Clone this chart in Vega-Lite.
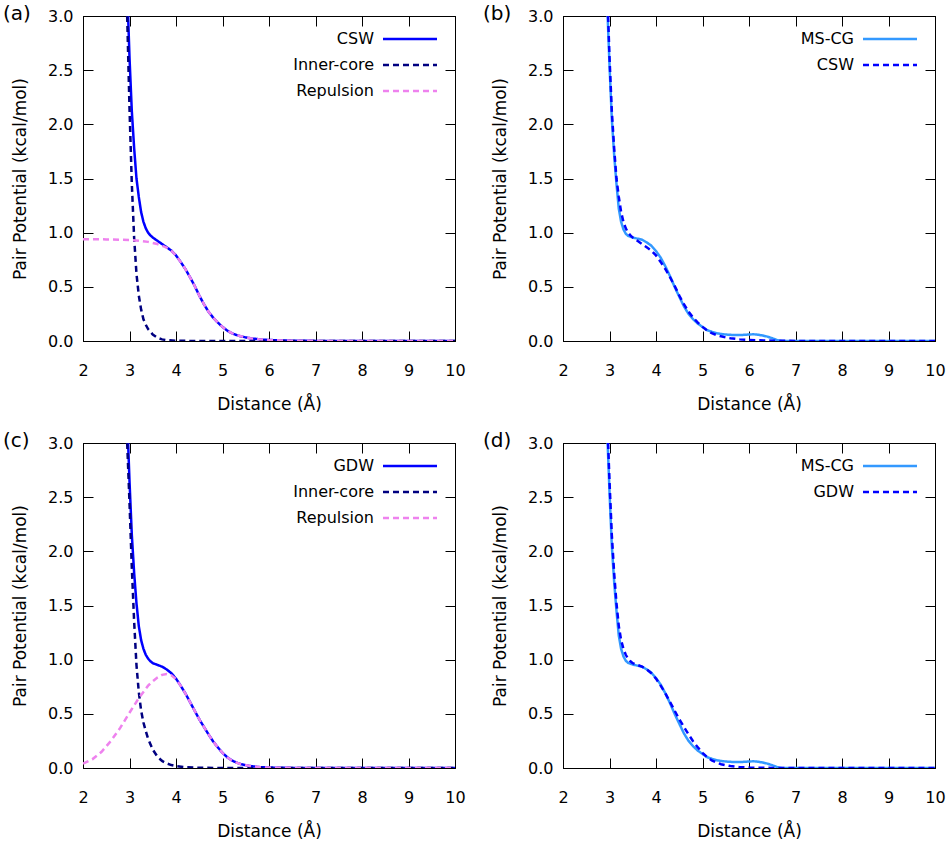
{
  "$schema": "https://vega.github.io/schema/vega-lite/v6.json",
  "autosize": {"type": "pad"},
  "padding": {"left": 2, "top": 3, "right": 0, "bottom": 0},
  "background": "white",
  "bounds": "flush",
  "columns": 2,
  "spacing": {"row": 102, "column": 108},
  "resolve": {"scale": {"color": "independent", "strokeDash": "independent"}, "legend": {"color": "independent", "strokeDash": "independent"}},
  "config": {
    "font": "DejaVu Sans",
    "view": {"stroke": "black", "strokeWidth": 1},
    "axis": {
      "domainColor": "black", "tickColor": "black", "labelColor": "black", "titleColor": "black",
      "grid": false, "tickSize": -10, "tickWidth": 1, "domainWidth": 1,
      "labelFont": "DejaVu Sans", "titleFont": "DejaVu Sans", "labelFontSize": 16, "titleFontSize": 17,
      "titleFontWeight": "normal", "labelFlush": false
    },
    "axisBottom": {"labelPadding": 31, "labelBaseline": "top", "titlePadding": 18},
    "axisLeft": {"labelPadding": 20, "titlePadding": 18},
    "title": {"anchor": "start", "frame": "group", "fontSize": 20, "font": "DejaVu Sans", "fontWeight": "normal", "color": "black", "offset": 0, "baseline": "middle", "dx": -80, "dy": 20},
    "legend": {
      "orient": "none", "legendX": 177, "legendY": 15, "title": null, "padding": 0,
      "symbolType": "M-4,0H4", "symbolSize": 182.25, "symbolStrokeWidth": 2.5,
      "labelAlign": "right", "labelOffset": -44, "symbolOffset": 142,
      "labelFont": "DejaVu Sans", "labelFontSize": 16, "labelColor": "black", "labelLimit": 0, "rowPadding": 10
    }
  },
  "datasets": {
    "a": [
      {"distance": 2.97, "potential": 3.0, "curve": "CSW"},
      {"distance": 3.0, "potential": 2.62, "curve": "CSW"},
      {"distance": 3.05, "potential": 2.12, "curve": "CSW"},
      {"distance": 3.1, "potential": 1.78, "curve": "CSW"},
      {"distance": 3.15, "potential": 1.5, "curve": "CSW"},
      {"distance": 3.2, "potential": 1.33, "curve": "CSW"},
      {"distance": 3.25, "potential": 1.19, "curve": "CSW"},
      {"distance": 3.3, "potential": 1.1, "curve": "CSW"},
      {"distance": 3.35, "potential": 1.04, "curve": "CSW"},
      {"distance": 3.4, "potential": 1.0, "curve": "CSW"},
      {"distance": 3.45, "potential": 0.975, "curve": "CSW"},
      {"distance": 3.5, "potential": 0.955, "curve": "CSW"},
      {"distance": 3.6, "potential": 0.925, "curve": "CSW"},
      {"distance": 3.7, "potential": 0.895, "curve": "CSW"},
      {"distance": 3.8, "potential": 0.865, "curve": "CSW"},
      {"distance": 3.9, "potential": 0.835, "curve": "CSW"},
      {"distance": 4.0, "potential": 0.79, "curve": "CSW"},
      {"distance": 4.1, "potential": 0.73, "curve": "CSW"},
      {"distance": 4.2, "potential": 0.665, "curve": "CSW"},
      {"distance": 4.3, "potential": 0.59, "curve": "CSW"},
      {"distance": 4.4, "potential": 0.51, "curve": "CSW"},
      {"distance": 4.5, "potential": 0.42, "curve": "CSW"},
      {"distance": 4.6, "potential": 0.34, "curve": "CSW"},
      {"distance": 4.7, "potential": 0.27, "curve": "CSW"},
      {"distance": 4.8, "potential": 0.215, "curve": "CSW"},
      {"distance": 4.9, "potential": 0.17, "curve": "CSW"},
      {"distance": 5.0, "potential": 0.13, "curve": "CSW"},
      {"distance": 5.1, "potential": 0.097, "curve": "CSW"},
      {"distance": 5.2, "potential": 0.072, "curve": "CSW"},
      {"distance": 5.3, "potential": 0.055, "curve": "CSW"},
      {"distance": 5.4, "potential": 0.043, "curve": "CSW"},
      {"distance": 5.5, "potential": 0.033, "curve": "CSW"},
      {"distance": 5.6, "potential": 0.025, "curve": "CSW"},
      {"distance": 5.8, "potential": 0.015, "curve": "CSW"},
      {"distance": 6.0, "potential": 0.009, "curve": "CSW"},
      {"distance": 6.5, "potential": 0.003, "curve": "CSW"},
      {"distance": 7.0, "potential": 0.001, "curve": "CSW"},
      {"distance": 8.0, "potential": 0.0, "curve": "CSW"},
      {"distance": 10.0, "potential": 0.0, "curve": "CSW"},
      {"distance": 2.95, "potential": 3.0, "curve": "Inner-core"},
      {"distance": 3.0, "potential": 2.15, "curve": "Inner-core"},
      {"distance": 3.05, "potential": 1.45, "curve": "Inner-core"},
      {"distance": 3.1, "potential": 0.95, "curve": "Inner-core"},
      {"distance": 3.15, "potential": 0.62, "curve": "Inner-core"},
      {"distance": 3.2, "potential": 0.42, "curve": "Inner-core"},
      {"distance": 3.25, "potential": 0.29, "curve": "Inner-core"},
      {"distance": 3.3, "potential": 0.2, "curve": "Inner-core"},
      {"distance": 3.35, "potential": 0.15, "curve": "Inner-core"},
      {"distance": 3.4, "potential": 0.11, "curve": "Inner-core"},
      {"distance": 3.5, "potential": 0.06, "curve": "Inner-core"},
      {"distance": 3.6, "potential": 0.03, "curve": "Inner-core"},
      {"distance": 3.7, "potential": 0.015, "curve": "Inner-core"},
      {"distance": 3.8, "potential": 0.008, "curve": "Inner-core"},
      {"distance": 4.0, "potential": 0.002, "curve": "Inner-core"},
      {"distance": 4.5, "potential": 0.0, "curve": "Inner-core"},
      {"distance": 10.0, "potential": 0.0, "curve": "Inner-core"},
      {"distance": 2.0, "potential": 0.94, "curve": "Repulsion"},
      {"distance": 2.5, "potential": 0.938, "curve": "Repulsion"},
      {"distance": 3.0, "potential": 0.933, "curve": "Repulsion"},
      {"distance": 3.2, "potential": 0.926, "curve": "Repulsion"},
      {"distance": 3.4, "potential": 0.915, "curve": "Repulsion"},
      {"distance": 3.6, "potential": 0.895, "curve": "Repulsion"},
      {"distance": 3.8, "potential": 0.862, "curve": "Repulsion"},
      {"distance": 3.9, "potential": 0.833, "curve": "Repulsion"},
      {"distance": 4.0, "potential": 0.79, "curve": "Repulsion"},
      {"distance": 4.1, "potential": 0.73, "curve": "Repulsion"},
      {"distance": 4.2, "potential": 0.665, "curve": "Repulsion"},
      {"distance": 4.3, "potential": 0.59, "curve": "Repulsion"},
      {"distance": 4.4, "potential": 0.51, "curve": "Repulsion"},
      {"distance": 4.5, "potential": 0.42, "curve": "Repulsion"},
      {"distance": 4.6, "potential": 0.34, "curve": "Repulsion"},
      {"distance": 4.7, "potential": 0.27, "curve": "Repulsion"},
      {"distance": 4.8, "potential": 0.215, "curve": "Repulsion"},
      {"distance": 4.9, "potential": 0.17, "curve": "Repulsion"},
      {"distance": 5.0, "potential": 0.13, "curve": "Repulsion"},
      {"distance": 5.1, "potential": 0.097, "curve": "Repulsion"},
      {"distance": 5.2, "potential": 0.072, "curve": "Repulsion"},
      {"distance": 5.3, "potential": 0.055, "curve": "Repulsion"},
      {"distance": 5.4, "potential": 0.043, "curve": "Repulsion"},
      {"distance": 5.5, "potential": 0.033, "curve": "Repulsion"},
      {"distance": 5.6, "potential": 0.025, "curve": "Repulsion"},
      {"distance": 5.8, "potential": 0.015, "curve": "Repulsion"},
      {"distance": 6.0, "potential": 0.009, "curve": "Repulsion"},
      {"distance": 6.5, "potential": 0.003, "curve": "Repulsion"},
      {"distance": 7.0, "potential": 0.001, "curve": "Repulsion"},
      {"distance": 8.0, "potential": 0.0, "curve": "Repulsion"},
      {"distance": 10.0, "potential": 0.0, "curve": "Repulsion"}
    ],
    "b": [
      {"distance": 2.96, "potential": 3.0, "curve": "MS-CG"},
      {"distance": 3.0, "potential": 2.55, "curve": "MS-CG"},
      {"distance": 3.05, "potential": 2.05, "curve": "MS-CG"},
      {"distance": 3.1, "potential": 1.72, "curve": "MS-CG"},
      {"distance": 3.15, "potential": 1.45, "curve": "MS-CG"},
      {"distance": 3.2, "potential": 1.22, "curve": "MS-CG"},
      {"distance": 3.25, "potential": 1.1, "curve": "MS-CG"},
      {"distance": 3.3, "potential": 1.03, "curve": "MS-CG"},
      {"distance": 3.35, "potential": 0.99, "curve": "MS-CG"},
      {"distance": 3.4, "potential": 0.97, "curve": "MS-CG"},
      {"distance": 3.5, "potential": 0.955, "curve": "MS-CG"},
      {"distance": 3.6, "potential": 0.945, "curve": "MS-CG"},
      {"distance": 3.7, "potential": 0.935, "curve": "MS-CG"},
      {"distance": 3.8, "potential": 0.91, "curve": "MS-CG"},
      {"distance": 3.9, "potential": 0.88, "curve": "MS-CG"},
      {"distance": 4.0, "potential": 0.83, "curve": "MS-CG"},
      {"distance": 4.1, "potential": 0.77, "curve": "MS-CG"},
      {"distance": 4.2, "potential": 0.69, "curve": "MS-CG"},
      {"distance": 4.3, "potential": 0.6, "curve": "MS-CG"},
      {"distance": 4.4, "potential": 0.5, "curve": "MS-CG"},
      {"distance": 4.5, "potential": 0.41, "curve": "MS-CG"},
      {"distance": 4.6, "potential": 0.32, "curve": "MS-CG"},
      {"distance": 4.7, "potential": 0.25, "curve": "MS-CG"},
      {"distance": 4.8, "potential": 0.2, "curve": "MS-CG"},
      {"distance": 4.9, "potential": 0.16, "curve": "MS-CG"},
      {"distance": 5.0, "potential": 0.13, "curve": "MS-CG"},
      {"distance": 5.1, "potential": 0.1, "curve": "MS-CG"},
      {"distance": 5.2, "potential": 0.085, "curve": "MS-CG"},
      {"distance": 5.3, "potential": 0.072, "curve": "MS-CG"},
      {"distance": 5.4, "potential": 0.065, "curve": "MS-CG"},
      {"distance": 5.5, "potential": 0.06, "curve": "MS-CG"},
      {"distance": 5.6, "potential": 0.057, "curve": "MS-CG"},
      {"distance": 5.7, "potential": 0.055, "curve": "MS-CG"},
      {"distance": 5.8, "potential": 0.055, "curve": "MS-CG"},
      {"distance": 5.9, "potential": 0.057, "curve": "MS-CG"},
      {"distance": 6.0, "potential": 0.06, "curve": "MS-CG"},
      {"distance": 6.1, "potential": 0.062, "curve": "MS-CG"},
      {"distance": 6.2, "potential": 0.058, "curve": "MS-CG"},
      {"distance": 6.3, "potential": 0.05, "curve": "MS-CG"},
      {"distance": 6.4, "potential": 0.04, "curve": "MS-CG"},
      {"distance": 6.5, "potential": 0.025, "curve": "MS-CG"},
      {"distance": 6.6, "potential": 0.01, "curve": "MS-CG"},
      {"distance": 6.7, "potential": 0.0, "curve": "MS-CG"},
      {"distance": 10.0, "potential": 0.0, "curve": "MS-CG"},
      {"distance": 2.97, "potential": 3.0, "curve": "CSW"},
      {"distance": 3.0, "potential": 2.62, "curve": "CSW"},
      {"distance": 3.05, "potential": 2.12, "curve": "CSW"},
      {"distance": 3.1, "potential": 1.78, "curve": "CSW"},
      {"distance": 3.15, "potential": 1.5, "curve": "CSW"},
      {"distance": 3.2, "potential": 1.33, "curve": "CSW"},
      {"distance": 3.25, "potential": 1.19, "curve": "CSW"},
      {"distance": 3.3, "potential": 1.1, "curve": "CSW"},
      {"distance": 3.35, "potential": 1.04, "curve": "CSW"},
      {"distance": 3.4, "potential": 1.0, "curve": "CSW"},
      {"distance": 3.45, "potential": 0.975, "curve": "CSW"},
      {"distance": 3.5, "potential": 0.955, "curve": "CSW"},
      {"distance": 3.6, "potential": 0.925, "curve": "CSW"},
      {"distance": 3.7, "potential": 0.895, "curve": "CSW"},
      {"distance": 3.8, "potential": 0.865, "curve": "CSW"},
      {"distance": 3.9, "potential": 0.835, "curve": "CSW"},
      {"distance": 4.0, "potential": 0.79, "curve": "CSW"},
      {"distance": 4.1, "potential": 0.73, "curve": "CSW"},
      {"distance": 4.2, "potential": 0.665, "curve": "CSW"},
      {"distance": 4.3, "potential": 0.59, "curve": "CSW"},
      {"distance": 4.4, "potential": 0.51, "curve": "CSW"},
      {"distance": 4.5, "potential": 0.42, "curve": "CSW"},
      {"distance": 4.6, "potential": 0.34, "curve": "CSW"},
      {"distance": 4.7, "potential": 0.27, "curve": "CSW"},
      {"distance": 4.8, "potential": 0.215, "curve": "CSW"},
      {"distance": 4.9, "potential": 0.17, "curve": "CSW"},
      {"distance": 5.0, "potential": 0.13, "curve": "CSW"},
      {"distance": 5.1, "potential": 0.097, "curve": "CSW"},
      {"distance": 5.2, "potential": 0.072, "curve": "CSW"},
      {"distance": 5.3, "potential": 0.055, "curve": "CSW"},
      {"distance": 5.4, "potential": 0.043, "curve": "CSW"},
      {"distance": 5.5, "potential": 0.033, "curve": "CSW"},
      {"distance": 5.6, "potential": 0.025, "curve": "CSW"},
      {"distance": 5.8, "potential": 0.015, "curve": "CSW"},
      {"distance": 6.0, "potential": 0.009, "curve": "CSW"},
      {"distance": 6.5, "potential": 0.003, "curve": "CSW"},
      {"distance": 7.0, "potential": 0.001, "curve": "CSW"},
      {"distance": 8.0, "potential": 0.0, "curve": "CSW"},
      {"distance": 10.0, "potential": 0.0, "curve": "CSW"}
    ],
    "c": [
      {"distance": 2.97, "potential": 3.0, "curve": "GDW"},
      {"distance": 3.0, "potential": 2.65, "curve": "GDW"},
      {"distance": 3.05, "potential": 2.15, "curve": "GDW"},
      {"distance": 3.1, "potential": 1.8, "curve": "GDW"},
      {"distance": 3.15, "potential": 1.52, "curve": "GDW"},
      {"distance": 3.2, "potential": 1.31, "curve": "GDW"},
      {"distance": 3.25, "potential": 1.18, "curve": "GDW"},
      {"distance": 3.3, "potential": 1.1, "curve": "GDW"},
      {"distance": 3.35, "potential": 1.045, "curve": "GDW"},
      {"distance": 3.4, "potential": 1.01, "curve": "GDW"},
      {"distance": 3.45, "potential": 0.985, "curve": "GDW"},
      {"distance": 3.5, "potential": 0.968, "curve": "GDW"},
      {"distance": 3.6, "potential": 0.952, "curve": "GDW"},
      {"distance": 3.7, "potential": 0.935, "curve": "GDW"},
      {"distance": 3.8, "potential": 0.91, "curve": "GDW"},
      {"distance": 3.9, "potential": 0.875, "curve": "GDW"},
      {"distance": 4.0, "potential": 0.825, "curve": "GDW"},
      {"distance": 4.1, "potential": 0.76, "curve": "GDW"},
      {"distance": 4.2, "potential": 0.69, "curve": "GDW"},
      {"distance": 4.3, "potential": 0.61, "curve": "GDW"},
      {"distance": 4.4, "potential": 0.53, "curve": "GDW"},
      {"distance": 4.5, "potential": 0.45, "curve": "GDW"},
      {"distance": 4.6, "potential": 0.38, "curve": "GDW"},
      {"distance": 4.7, "potential": 0.31, "curve": "GDW"},
      {"distance": 4.8, "potential": 0.245, "curve": "GDW"},
      {"distance": 4.9, "potential": 0.19, "curve": "GDW"},
      {"distance": 5.0, "potential": 0.14, "curve": "GDW"},
      {"distance": 5.1, "potential": 0.1, "curve": "GDW"},
      {"distance": 5.2, "potential": 0.07, "curve": "GDW"},
      {"distance": 5.3, "potential": 0.05, "curve": "GDW"},
      {"distance": 5.4, "potential": 0.035, "curve": "GDW"},
      {"distance": 5.6, "potential": 0.018, "curve": "GDW"},
      {"distance": 5.8, "potential": 0.008, "curve": "GDW"},
      {"distance": 6.0, "potential": 0.004, "curve": "GDW"},
      {"distance": 6.5, "potential": 0.001, "curve": "GDW"},
      {"distance": 7.0, "potential": 0.0, "curve": "GDW"},
      {"distance": 10.0, "potential": 0.0, "curve": "GDW"},
      {"distance": 2.95, "potential": 3.0, "curve": "Inner-core"},
      {"distance": 3.0, "potential": 2.45, "curve": "Inner-core"},
      {"distance": 3.05, "potential": 1.85, "curve": "Inner-core"},
      {"distance": 3.1, "potential": 1.35, "curve": "Inner-core"},
      {"distance": 3.15, "potential": 0.95, "curve": "Inner-core"},
      {"distance": 3.2, "potential": 0.7, "curve": "Inner-core"},
      {"distance": 3.25, "potential": 0.53, "curve": "Inner-core"},
      {"distance": 3.3, "potential": 0.42, "curve": "Inner-core"},
      {"distance": 3.35, "potential": 0.34, "curve": "Inner-core"},
      {"distance": 3.4, "potential": 0.27, "curve": "Inner-core"},
      {"distance": 3.5, "potential": 0.17, "curve": "Inner-core"},
      {"distance": 3.6, "potential": 0.105, "curve": "Inner-core"},
      {"distance": 3.7, "potential": 0.065, "curve": "Inner-core"},
      {"distance": 3.8, "potential": 0.042, "curve": "Inner-core"},
      {"distance": 3.9, "potential": 0.027, "curve": "Inner-core"},
      {"distance": 4.0, "potential": 0.017, "curve": "Inner-core"},
      {"distance": 4.2, "potential": 0.007, "curve": "Inner-core"},
      {"distance": 4.5, "potential": 0.002, "curve": "Inner-core"},
      {"distance": 5.0, "potential": 0.0, "curve": "Inner-core"},
      {"distance": 10.0, "potential": 0.0, "curve": "Inner-core"},
      {"distance": 2.0, "potential": 0.04, "curve": "Repulsion"},
      {"distance": 2.2, "potential": 0.08, "curve": "Repulsion"},
      {"distance": 2.4, "potential": 0.15, "curve": "Repulsion"},
      {"distance": 2.6, "potential": 0.25, "curve": "Repulsion"},
      {"distance": 2.8, "potential": 0.37, "curve": "Repulsion"},
      {"distance": 3.0, "potential": 0.51, "curve": "Repulsion"},
      {"distance": 3.2, "potential": 0.645, "curve": "Repulsion"},
      {"distance": 3.4, "potential": 0.76, "curve": "Repulsion"},
      {"distance": 3.5, "potential": 0.8, "curve": "Repulsion"},
      {"distance": 3.6, "potential": 0.835, "curve": "Repulsion"},
      {"distance": 3.7, "potential": 0.86, "curve": "Repulsion"},
      {"distance": 3.8, "potential": 0.868, "curve": "Repulsion"},
      {"distance": 3.9, "potential": 0.855, "curve": "Repulsion"},
      {"distance": 4.0, "potential": 0.82, "curve": "Repulsion"},
      {"distance": 4.1, "potential": 0.76, "curve": "Repulsion"},
      {"distance": 4.2, "potential": 0.69, "curve": "Repulsion"},
      {"distance": 4.3, "potential": 0.61, "curve": "Repulsion"},
      {"distance": 4.4, "potential": 0.53, "curve": "Repulsion"},
      {"distance": 4.5, "potential": 0.45, "curve": "Repulsion"},
      {"distance": 4.6, "potential": 0.38, "curve": "Repulsion"},
      {"distance": 4.7, "potential": 0.31, "curve": "Repulsion"},
      {"distance": 4.8, "potential": 0.245, "curve": "Repulsion"},
      {"distance": 4.9, "potential": 0.19, "curve": "Repulsion"},
      {"distance": 5.0, "potential": 0.14, "curve": "Repulsion"},
      {"distance": 5.1, "potential": 0.1, "curve": "Repulsion"},
      {"distance": 5.2, "potential": 0.07, "curve": "Repulsion"},
      {"distance": 5.3, "potential": 0.05, "curve": "Repulsion"},
      {"distance": 5.4, "potential": 0.035, "curve": "Repulsion"},
      {"distance": 5.6, "potential": 0.018, "curve": "Repulsion"},
      {"distance": 5.8, "potential": 0.008, "curve": "Repulsion"},
      {"distance": 6.0, "potential": 0.004, "curve": "Repulsion"},
      {"distance": 6.5, "potential": 0.001, "curve": "Repulsion"},
      {"distance": 7.0, "potential": 0.0, "curve": "Repulsion"},
      {"distance": 10.0, "potential": 0.0, "curve": "Repulsion"}
    ],
    "d": [
      {"distance": 2.96, "potential": 3.0, "curve": "MS-CG"},
      {"distance": 3.0, "potential": 2.55, "curve": "MS-CG"},
      {"distance": 3.05, "potential": 2.05, "curve": "MS-CG"},
      {"distance": 3.1, "potential": 1.72, "curve": "MS-CG"},
      {"distance": 3.15, "potential": 1.45, "curve": "MS-CG"},
      {"distance": 3.2, "potential": 1.22, "curve": "MS-CG"},
      {"distance": 3.25, "potential": 1.1, "curve": "MS-CG"},
      {"distance": 3.3, "potential": 1.03, "curve": "MS-CG"},
      {"distance": 3.35, "potential": 0.99, "curve": "MS-CG"},
      {"distance": 3.4, "potential": 0.97, "curve": "MS-CG"},
      {"distance": 3.5, "potential": 0.955, "curve": "MS-CG"},
      {"distance": 3.6, "potential": 0.945, "curve": "MS-CG"},
      {"distance": 3.7, "potential": 0.935, "curve": "MS-CG"},
      {"distance": 3.8, "potential": 0.91, "curve": "MS-CG"},
      {"distance": 3.9, "potential": 0.88, "curve": "MS-CG"},
      {"distance": 4.0, "potential": 0.83, "curve": "MS-CG"},
      {"distance": 4.1, "potential": 0.77, "curve": "MS-CG"},
      {"distance": 4.2, "potential": 0.69, "curve": "MS-CG"},
      {"distance": 4.3, "potential": 0.6, "curve": "MS-CG"},
      {"distance": 4.4, "potential": 0.5, "curve": "MS-CG"},
      {"distance": 4.5, "potential": 0.41, "curve": "MS-CG"},
      {"distance": 4.6, "potential": 0.32, "curve": "MS-CG"},
      {"distance": 4.7, "potential": 0.25, "curve": "MS-CG"},
      {"distance": 4.8, "potential": 0.2, "curve": "MS-CG"},
      {"distance": 4.9, "potential": 0.16, "curve": "MS-CG"},
      {"distance": 5.0, "potential": 0.13, "curve": "MS-CG"},
      {"distance": 5.1, "potential": 0.1, "curve": "MS-CG"},
      {"distance": 5.2, "potential": 0.085, "curve": "MS-CG"},
      {"distance": 5.3, "potential": 0.072, "curve": "MS-CG"},
      {"distance": 5.4, "potential": 0.065, "curve": "MS-CG"},
      {"distance": 5.5, "potential": 0.06, "curve": "MS-CG"},
      {"distance": 5.6, "potential": 0.057, "curve": "MS-CG"},
      {"distance": 5.7, "potential": 0.055, "curve": "MS-CG"},
      {"distance": 5.8, "potential": 0.055, "curve": "MS-CG"},
      {"distance": 5.9, "potential": 0.057, "curve": "MS-CG"},
      {"distance": 6.0, "potential": 0.06, "curve": "MS-CG"},
      {"distance": 6.1, "potential": 0.062, "curve": "MS-CG"},
      {"distance": 6.2, "potential": 0.058, "curve": "MS-CG"},
      {"distance": 6.3, "potential": 0.05, "curve": "MS-CG"},
      {"distance": 6.4, "potential": 0.04, "curve": "MS-CG"},
      {"distance": 6.5, "potential": 0.025, "curve": "MS-CG"},
      {"distance": 6.6, "potential": 0.01, "curve": "MS-CG"},
      {"distance": 6.7, "potential": 0.0, "curve": "MS-CG"},
      {"distance": 10.0, "potential": 0.0, "curve": "MS-CG"},
      {"distance": 2.97, "potential": 3.0, "curve": "GDW"},
      {"distance": 3.0, "potential": 2.65, "curve": "GDW"},
      {"distance": 3.05, "potential": 2.15, "curve": "GDW"},
      {"distance": 3.1, "potential": 1.8, "curve": "GDW"},
      {"distance": 3.15, "potential": 1.52, "curve": "GDW"},
      {"distance": 3.2, "potential": 1.31, "curve": "GDW"},
      {"distance": 3.25, "potential": 1.18, "curve": "GDW"},
      {"distance": 3.3, "potential": 1.1, "curve": "GDW"},
      {"distance": 3.35, "potential": 1.045, "curve": "GDW"},
      {"distance": 3.4, "potential": 1.01, "curve": "GDW"},
      {"distance": 3.45, "potential": 0.985, "curve": "GDW"},
      {"distance": 3.5, "potential": 0.968, "curve": "GDW"},
      {"distance": 3.6, "potential": 0.952, "curve": "GDW"},
      {"distance": 3.7, "potential": 0.935, "curve": "GDW"},
      {"distance": 3.8, "potential": 0.91, "curve": "GDW"},
      {"distance": 3.9, "potential": 0.875, "curve": "GDW"},
      {"distance": 4.0, "potential": 0.825, "curve": "GDW"},
      {"distance": 4.1, "potential": 0.76, "curve": "GDW"},
      {"distance": 4.2, "potential": 0.69, "curve": "GDW"},
      {"distance": 4.3, "potential": 0.61, "curve": "GDW"},
      {"distance": 4.4, "potential": 0.53, "curve": "GDW"},
      {"distance": 4.5, "potential": 0.45, "curve": "GDW"},
      {"distance": 4.6, "potential": 0.38, "curve": "GDW"},
      {"distance": 4.7, "potential": 0.31, "curve": "GDW"},
      {"distance": 4.8, "potential": 0.245, "curve": "GDW"},
      {"distance": 4.9, "potential": 0.19, "curve": "GDW"},
      {"distance": 5.0, "potential": 0.14, "curve": "GDW"},
      {"distance": 5.1, "potential": 0.1, "curve": "GDW"},
      {"distance": 5.2, "potential": 0.07, "curve": "GDW"},
      {"distance": 5.3, "potential": 0.05, "curve": "GDW"},
      {"distance": 5.4, "potential": 0.035, "curve": "GDW"},
      {"distance": 5.6, "potential": 0.018, "curve": "GDW"},
      {"distance": 5.8, "potential": 0.008, "curve": "GDW"},
      {"distance": 6.0, "potential": 0.004, "curve": "GDW"},
      {"distance": 6.5, "potential": 0.001, "curve": "GDW"},
      {"distance": 7.0, "potential": 0.0, "curve": "GDW"},
      {"distance": 10.0, "potential": 0.0, "curve": "GDW"}
    ]
  },
  "concat": [
    {
      "width": 372, "height": 325,
      "title": {"text": "(a)"},
      "data": {"name": "a"},
      "layer": [
        {
          "mark": {"type": "line", "strokeWidth": 2.5, "clip": true},
          "encoding": {
            "x": {"field": "distance", "type": "quantitative", "scale": {"domain": [2, 10], "nice": false}, "axis": {"orient": "bottom", "values": [2, 3, 4, 5, 6, 7, 8, 9, 10], "format": "d", "title": "Distance (Å)"}},
            "y": {"field": "potential", "type": "quantitative", "scale": {"domain": [0, 3], "nice": false}, "axis": {"orient": "left", "values": [0, 0.5, 1, 1.5, 2, 2.5, 3], "format": ".1f", "title": "Pair Potential (kcal/mol)"}},
            "color": {"field": "curve", "type": "nominal", "scale": {"domain": ["CSW", "Inner-core", "Repulsion"], "range": ["#0000ff", "#000080", "#ee82ee"]}, "legend": {"symbolType": "M-4,0H4", "symbolSize": 182.25}},
            "strokeDash": {"field": "curve", "type": "nominal", "scale": {"domain": ["CSW", "Inner-core", "Repulsion"], "range": [[1, 0], [6, 4], [6, 4]]}, "legend": {"symbolType": "M-4,0H4", "symbolSize": 182.25}}
          }
        },
        {
          "mark": {"type": "point", "opacity": 0},
          "encoding": {
            "x": {"field": "distance", "type": "quantitative", "axis": {"orient": "top", "values": [2, 3, 4, 5, 6, 7, 8, 9, 10], "labels": false, "title": null}},
            "y": {"field": "potential", "type": "quantitative", "axis": {"orient": "right", "values": [0, 0.5, 1, 1.5, 2, 2.5, 3], "labels": false, "title": null}}
          }
        }
      ]
    },
    {
      "width": 372, "height": 325,
      "title": {"text": "(b)"},
      "data": {"name": "b"},
      "layer": [
        {
          "mark": {"type": "line", "strokeWidth": 2.5, "clip": true},
          "encoding": {
            "x": {"field": "distance", "type": "quantitative", "scale": {"domain": [2, 10], "nice": false}, "axis": {"orient": "bottom", "values": [2, 3, 4, 5, 6, 7, 8, 9, 10], "format": "d", "title": "Distance (Å)"}},
            "y": {"field": "potential", "type": "quantitative", "scale": {"domain": [0, 3], "nice": false}, "axis": {"orient": "left", "values": [0, 0.5, 1, 1.5, 2, 2.5, 3], "format": ".1f", "title": "Pair Potential (kcal/mol)"}},
            "color": {"field": "curve", "type": "nominal", "scale": {"domain": ["MS-CG", "CSW"], "range": ["#3399ff", "#0000ff"]}, "legend": {"symbolType": "M-4,0H4", "symbolSize": 182.25}},
            "strokeDash": {"field": "curve", "type": "nominal", "scale": {"domain": ["MS-CG", "CSW"], "range": [[1, 0], [6, 4]]}, "legend": {"symbolType": "M-4,0H4", "symbolSize": 182.25}}
          }
        },
        {
          "mark": {"type": "point", "opacity": 0},
          "encoding": {
            "x": {"field": "distance", "type": "quantitative", "axis": {"orient": "top", "values": [2, 3, 4, 5, 6, 7, 8, 9, 10], "labels": false, "title": null}},
            "y": {"field": "potential", "type": "quantitative", "axis": {"orient": "right", "values": [0, 0.5, 1, 1.5, 2, 2.5, 3], "labels": false, "title": null}}
          }
        }
      ]
    },
    {
      "width": 372, "height": 325,
      "title": {"text": "(c)"},
      "data": {"name": "c"},
      "layer": [
        {
          "mark": {"type": "line", "strokeWidth": 2.5, "clip": true},
          "encoding": {
            "x": {"field": "distance", "type": "quantitative", "scale": {"domain": [2, 10], "nice": false}, "axis": {"orient": "bottom", "values": [2, 3, 4, 5, 6, 7, 8, 9, 10], "format": "d", "title": "Distance (Å)"}},
            "y": {"field": "potential", "type": "quantitative", "scale": {"domain": [0, 3], "nice": false}, "axis": {"orient": "left", "values": [0, 0.5, 1, 1.5, 2, 2.5, 3], "format": ".1f", "title": "Pair Potential (kcal/mol)"}},
            "color": {"field": "curve", "type": "nominal", "scale": {"domain": ["GDW", "Inner-core", "Repulsion"], "range": ["#0000ff", "#000080", "#ee82ee"]}, "legend": {"symbolType": "M-4,0H4", "symbolSize": 182.25}},
            "strokeDash": {"field": "curve", "type": "nominal", "scale": {"domain": ["GDW", "Inner-core", "Repulsion"], "range": [[1, 0], [6, 4], [6, 4]]}, "legend": {"symbolType": "M-4,0H4", "symbolSize": 182.25}}
          }
        },
        {
          "mark": {"type": "point", "opacity": 0},
          "encoding": {
            "x": {"field": "distance", "type": "quantitative", "axis": {"orient": "top", "values": [2, 3, 4, 5, 6, 7, 8, 9, 10], "labels": false, "title": null}},
            "y": {"field": "potential", "type": "quantitative", "axis": {"orient": "right", "values": [0, 0.5, 1, 1.5, 2, 2.5, 3], "labels": false, "title": null}}
          }
        }
      ]
    },
    {
      "width": 372, "height": 325,
      "title": {"text": "(d)"},
      "data": {"name": "d"},
      "layer": [
        {
          "mark": {"type": "line", "strokeWidth": 2.5, "clip": true},
          "encoding": {
            "x": {"field": "distance", "type": "quantitative", "scale": {"domain": [2, 10], "nice": false}, "axis": {"orient": "bottom", "values": [2, 3, 4, 5, 6, 7, 8, 9, 10], "format": "d", "title": "Distance (Å)"}},
            "y": {"field": "potential", "type": "quantitative", "scale": {"domain": [0, 3], "nice": false}, "axis": {"orient": "left", "values": [0, 0.5, 1, 1.5, 2, 2.5, 3], "format": ".1f", "title": "Pair Potential (kcal/mol)"}},
            "color": {"field": "curve", "type": "nominal", "scale": {"domain": ["MS-CG", "GDW"], "range": ["#3399ff", "#0000ff"]}, "legend": {"symbolType": "M-4,0H4", "symbolSize": 182.25}},
            "strokeDash": {"field": "curve", "type": "nominal", "scale": {"domain": ["MS-CG", "GDW"], "range": [[1, 0], [6, 4]]}, "legend": {"symbolType": "M-4,0H4", "symbolSize": 182.25}}
          }
        },
        {
          "mark": {"type": "point", "opacity": 0},
          "encoding": {
            "x": {"field": "distance", "type": "quantitative", "axis": {"orient": "top", "values": [2, 3, 4, 5, 6, 7, 8, 9, 10], "labels": false, "title": null}},
            "y": {"field": "potential", "type": "quantitative", "axis": {"orient": "right", "values": [0, 0.5, 1, 1.5, 2, 2.5, 3], "labels": false, "title": null}}
          }
        }
      ]
    }
  ]
}
